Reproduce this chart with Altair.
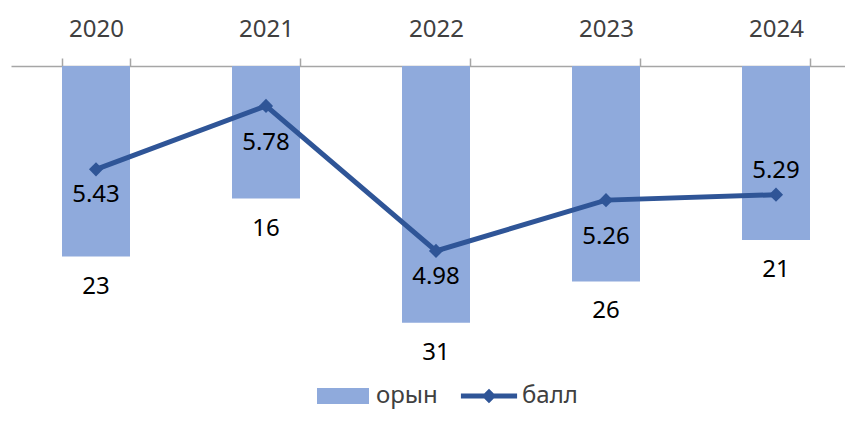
import altair as alt
import pandas as pd

years = ["2020", "2021", "2022", "2023", "2024"]
ranks = [23, 16, 31, 26, 21]
scores = [5.43, 5.78, 4.98, 5.26, 5.29]
series_names = ["орын", "балл"]
series_colors = ["#8FAADC", "#2F5597"]

# label placement groups for the score labels (as in the reference)
near_below = ["2020", "2022"]
far_below = ["2021", "2023"]
above = ["2024"]

bars_df = pd.DataFrame({"year": years, "rank": ranks, "series": [series_names[0]] * len(years)})
line_df = pd.DataFrame({"year": years, "score": scores, "series": [series_names[1]] * len(years)})

x_enc = alt.X(
    "year:N",
    sort=years,
    title=None,
    scale=alt.Scale(range=[0, 850], paddingInner=0.6, paddingOuter=0.3),
    axis=alt.Axis(
        orient="top",
        tickBand="extent",
        tickSize=8,
        tickColor="#A6A6A6",
        tickWidth=1.5,
        domainColor="#A6A6A6",
        domainWidth=1.5,
        labelFontSize=24,
        labelColor="#404040",
        labelPadding=17,
        labelAngle=0,
        grid=False,
    ),
)

sym_shape = (
    "datum.label === 'орын' ? 'M-1,-0.31H1V0.31H-1Z' : "
    "'M-1.08,-0.1H1.08V0.1H-1.08Z M0,-0.28L0.28,0L0,0.28L-0.28,0Z'"
)
sym_fill = "datum.label === 'орын' ? '#8FAADC' : '#2F5597'"

color_enc = alt.Color(
    "series:N",
    scale=alt.Scale(domain=series_names, range=series_colors),
    legend=alt.Legend(
        orient="none",
        legendX=306,
        legendY=304,
        direction="horizontal",
        title=None,
        labelFontSize=24,
        labelColor="#404040",
        symbolSize=2704,
        labelOffset=7,
        columnPadding=22,
        symbolType=alt.ExprRef(expr=sym_shape),
        symbolFillColor=alt.ExprRef(expr=sym_fill),
        symbolStrokeWidth=0,
        symbolOpacity=1,
    ),
)

y_rank = alt.Y("rank:Q", scale=alt.Scale(domain=[0, 35], reverse=True), axis=None)
y_score = alt.Y("score:Q", scale=alt.Scale(domain=[4.4, 6.0]), axis=None)

bars = alt.Chart(bars_df).mark_bar().encode(x=x_enc, y=y_rank, color=color_enc)
bar_text = alt.Chart(bars_df).mark_text(dy=30, fontSize=24, color="#000000").encode(
    x=x_enc, y=y_rank, text="rank:Q"
)

line = alt.Chart(line_df).mark_line(
    strokeWidth=5,
    point=alt.OverlayMarkDef(shape="diamond", size=200, filled=True, color="#2F5597"),
).encode(x=x_enc, y=y_score, color=color_enc)


def score_labels(group, dy):
    return (
        alt.Chart(line_df)
        .transform_filter(alt.FieldOneOfPredicate(field="year", oneOf=group))
        .mark_text(dy=dy, fontSize=24, color="#000000")
        .encode(x=x_enc, y=y_score, text=alt.Text("score:Q", format=".2f"))
    )


chart = (
    alt.layer(
        alt.layer(bars, bar_text),
        alt.layer(
            line,
            score_labels(near_below, 26),
            score_labels(far_below, 37),
            score_labels(above, -24),
        ),
    )
    .resolve_scale(y="independent")
    .properties(
        width=834,
        height=290,
        padding={"left": 3, "top": 58, "right": 0, "bottom": 56},
        autosize=alt.AutoSizeParams(type="none"),
    )
    .configure(font="Noto Sans")
    .configure_view(stroke=None)
)

chart.save("out.html", embed_options={"renderer": "svg", "actions": False})
